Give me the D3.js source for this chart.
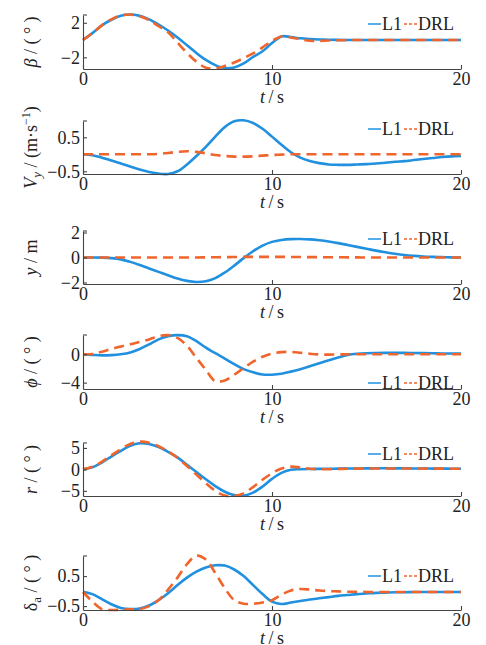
<!DOCTYPE html>
<html><head><meta charset="utf-8">
<script src="https://cdn.jsdelivr.net/npm/d3@7/dist/d3.min.js"></script>
<style>
body{margin:0;background:#fff;}
svg{display:block;}
svg text{font-family:"Liberation Serif","Times New Roman",Times,serif;}
</style>
</head><body>
<svg id="chart" width="486" height="645" font-family="Liberation Serif, Times New Roman, serif"></svg>
<script>
// ---------------- DATA ----------------
const seriesNames = ["L1", "DRL"];
const xTicks = [0, 10, 20];
const time = [0,0.5,1,1.5,2,2.5,3,3.5,4,4.5,5,5.5,6,6.5,7,7.5,8,8.5,9,9.5,10,
  10.5,11,11.5,12,12.5,13,13.5,14,14.5,15,15.5,16,16.5,17,17.5,18,18.5,19,19.5,20];

// beta (deg)
const betaL1  = [0,0.8,1.7,2.35,2.8,2.95,2.8,2.4,1.8,1.1,0.3,-0.6,-1.5,-2.3,-2.9,-3.25,-3.17,-2.7,-1.95,-1.3,-0.35,
  0.42,0.35,0.2,0.12,0.07,0.04,0.02,0.01,0,0,0,0,0,0,0,0,0,0,0,0];
const betaDRL = [0,0.8,1.7,2.4,2.85,2.95,2.75,2.3,1.6,0.9,-0.3,-1.5,-2.5,-3.2,-3.3,-3.0,-2.6,-2.1,-1.55,-0.85,-0.1,
  0.42,0.3,0.1,-0.08,-0.1,-0.06,-0.03,0,0,0,0,0,0,0,0,0,0,0,0,0];
const betaTicks = [-2, 2];

// Vy (m/s)
const vyL1  = [0,-0.03,-0.1,-0.18,-0.27,-0.36,-0.45,-0.52,-0.57,-0.58,-0.5,-0.3,-0.05,0.22,0.52,0.8,0.97,1.0,0.92,0.75,0.52,
  0.28,0.06,-0.1,-0.2,-0.26,-0.3,-0.31,-0.31,-0.3,-0.29,-0.27,-0.25,-0.22,-0.2,-0.17,-0.14,-0.11,-0.08,-0.06,-0.05];
const vyDRL = [0,0,0,0,0,0,0,0,0.01,0.04,0.07,0.09,0.07,0.03,-0.02,-0.05,-0.07,-0.07,-0.06,-0.04,-0.02,
  -0.01,0,0,0,0,0,0,0,0,0,0,0,0,0,0,0,0,0,0,0];
const vyTicks = [-0.5, 0.5];

// y (m)
const yL1  = [0,0,-0.01,-0.05,-0.15,-0.35,-0.6,-0.88,-1.15,-1.42,-1.68,-1.87,-1.96,-1.9,-1.65,-1.2,-0.65,-0.05,0.5,0.95,1.25,
  1.4,1.47,1.48,1.45,1.38,1.28,1.15,1.0,0.85,0.7,0.55,0.42,0.3,0.2,0.13,0.08,0.05,0.03,0.01,0];
const yDRL = [0,0,0,0,0,0,0,0,0,0,0,0,0,0.01,0.02,0.03,0.04,0.05,0.05,0.05,0.05,
  0.05,0.04,0.04,0.03,0.03,0.02,0.02,0.01,0.01,0,0,0,0,0,0,0,0,0,0,0];
const yTicks = [-2, 0, 2];

// phi (deg)
const phiL1  = [0,-0.08,-0.15,-0.12,0,0.25,0.75,1.4,2.1,2.55,2.7,2.55,1.85,0.95,0.15,-0.6,-1.4,-2.1,-2.55,-2.85,-2.88,
  -2.75,-2.45,-2.1,-1.7,-1.27,-0.85,-0.45,-0.1,0.07,0.15,0.18,0.2,0.2,0.2,0.18,0.16,0.14,0.12,0.11,0.1];
const phiDRL = [0,0.05,0.35,0.75,1.1,1.4,1.75,2.1,2.55,2.7,2.3,1.2,-0.5,-2.2,-3.8,-3.7,-2.9,-1.95,-1.05,-0.35,0.1,
  0.3,0.33,0.22,0.08,-0.02,-0.05,-0.03,0,0,0,0,0,0,0,0,0,0,0,0,0];
const phiTicks = [-4, 0];

// r (deg)
const rL1  = [0,0.5,1.6,3.0,4.3,5.5,6.1,5.9,5.2,4.1,2.8,1.1,-0.6,-2.3,-3.9,-5.2,-6.0,-6.1,-5.4,-4.0,-2.2,
  -0.8,-0.1,0.05,0.1,0.12,0.15,0.17,0.2,0.22,0.24,0.25,0.25,0.24,0.23,0.22,0.2,0.19,0.18,0.16,0.15];
const rDRL = [0,0.6,1.8,3.3,4.7,5.9,6.45,6.2,5.4,4.2,2.7,0.8,-1.2,-3.2,-5.0,-6.1,-6.2,-5.6,-4.1,-2.4,-0.9,
  0.2,0.65,0.45,0.15,0.05,0.05,0.1,0.15,0.18,0.2,0.22,0.22,0.22,0.21,0.2,0.19,0.18,0.17,0.16,0.15];
const rTicks = [-5, 0, 5];

// delta_a (deg)
const daL1  = [-0.02,-0.1,-0.27,-0.44,-0.56,-0.6,-0.58,-0.48,-0.3,-0.07,0.2,0.45,0.65,0.79,0.86,0.85,0.72,0.5,0.2,-0.1,-0.35,
  -0.43,-0.38,-0.33,-0.28,-0.24,-0.2,-0.16,-0.13,-0.1,-0.08,-0.06,-0.05,-0.04,-0.04,-0.03,-0.03,-0.03,-0.03,-0.03,-0.03];
const daDRL = [-0.03,-0.35,-0.6,-0.63,-0.62,-0.61,-0.6,-0.5,-0.3,0.05,0.45,0.9,1.18,1.05,0.6,0.1,-0.3,-0.42,-0.42,-0.38,-0.3,
  -0.12,0.02,0.07,0.05,0.02,0,-0.01,-0.02,-0.02,-0.03,-0.03,-0.03,-0.03,-0.03,-0.03,-0.03,-0.03,-0.03,-0.03,-0.03];
const daTicks = [-0.5, 0.5];

// ---------------- LAYOUT ----------------
const colors = ["#2190df", "#f0652b"];
const FONT = "Liberation Serif, Times New Roman, serif";
const fontSize = 18;
const xLeft = 83, xRight = 461;
const panels = [
  {l1: betaL1, drl: betaDRL, ticks: betaTicks, dom: [-3.35, 2.9],  top: 15,  bottom: 69,  legY: 24,  label: "beta"},
  {l1: vyL1,   drl: vyDRL,   ticks: vyTicks,   dom: [-0.58, 0.98], top: 121, bottom: 174, legY: 129, label: "vy"},
  {l1: yL1,    drl: yDRL,    ticks: yTicks,    dom: [-2.12, 2.12], top: 231, bottom: 284, legY: 239, label: "y"},
  {l1: phiL1,  drl: phiDRL,  ticks: phiTicks,  dom: [-4.9, 2.72],  top: 335, bottom: 389, legY: 383, label: "phi"},
  {l1: rL1,    drl: rDRL,    ticks: rTicks,    dom: [-6.2, 6.15],  top: 443, bottom: 496, legY: 454, label: "r"},
  {l1: daL1,   drl: daDRL,   ticks: daTicks,   dom: [-0.63, 1.17], top: 556, bottom: 610, legY: 576, label: "da"}
];

const svg = d3.select("#chart");
const axisColor = "#444";
const fmt = v => (v < 0 ? "\u2212" : "") + Math.abs(v);

function yLabel(g, kind) {
  const t = g.append("text").attr("font-size", fontSize).attr("font-family", FONT)
    .attr("fill", "#222").attr("text-anchor", "middle");
  const it = s => t.append("tspan").attr("font-style", "italic").text(s);
  const rm = s => t.append("tspan").text(s);
  if (kind === "beta") { it("\u03B2"); rm(" / ( \u00B0 )"); }
  else if (kind === "vy") {
    it("V"); it("y").attr("font-size", 13).attr("dy", 4);
    rm(" / (m\u00B7s").attr("dy", -4);
    rm("\u22121").attr("font-size", 12).attr("dy", -7);
    rm(")").attr("dy", 7);
  }
  else if (kind === "y") { it("y"); rm(" / m"); }
  else if (kind === "phi") { it("\u03D5"); rm(" / ( \u00B0 )"); }
  else if (kind === "r") { it("r"); rm(" / ( \u00B0 )"); }
  else if (kind === "da") { rm("\u03B4"); rm("a").attr("font-size", 13).attr("dy", 4); rm(" / ( \u00B0 )").attr("dy", -4); }
  return t;
}

const x = d3.scaleLinear().domain([0, 20]).range([xLeft, xRight]);

panels.forEach(p => {
  const g = svg.append("g");
  const y = d3.scaleLinear().domain(p.dom).range([p.bottom, p.top]);

  // lines
  const line = d3.line().x((d, i) => x(time[i])).y(d => y(d)).curve(d3.curveCatmullRom.alpha(0.5));
  g.append("path").datum(p.l1).attr("d", line).attr("fill", "none")
    .attr("stroke", colors[0]).attr("stroke-width", 2.6);
  g.append("path").datum(p.drl).attr("d", line).attr("fill", "none")
    .attr("stroke", colors[1]).attr("stroke-width", 2.6).attr("stroke-dasharray", "10,6");

  // axes
  const ax = g.append("g").attr("transform", `translate(${xLeft},0)`)
    .call(d3.axisLeft(y).tickValues(p.ticks).tickFormat(fmt).tickSizeInner(-4).tickSizeOuter(0).tickPadding(3));
  ax.attr("font-family", FONT).attr("font-size", fontSize);
  ax.selectAll("path,line").attr("stroke", axisColor).attr("stroke-width", 1.1);
  ax.selectAll("text").attr("font-size", fontSize).attr("fill", "#222").attr("font-family", FONT);
  // small mark at spine top
  g.append("line").attr("x1", xLeft).attr("x2", xLeft + 4).attr("y1", p.top).attr("y2", p.top)
    .attr("stroke", axisColor).attr("stroke-width", 1.1);

  const bx = g.append("g").attr("transform", `translate(0,${p.bottom})`)
    .call(d3.axisBottom(x).tickValues(xTicks).tickFormat(d => d).tickSizeInner(-4).tickSizeOuter(0).tickPadding(3));
  bx.attr("font-family", FONT).attr("font-size", fontSize);
  bx.selectAll("path,line").attr("stroke", axisColor).attr("stroke-width", 1.1);
  bx.selectAll("text").attr("font-size", fontSize).attr("fill", "#222").attr("font-family", FONT);

  // x label
  const xl = g.append("text").attr("x", (xLeft + xRight) / 2).attr("y", p.bottom + 34)
    .attr("font-size", fontSize).attr("font-family", FONT).attr("fill", "#222").attr("text-anchor", "middle");
  xl.append("tspan").attr("font-style", "italic").text("t");
  xl.append("tspan").text("\u2009/\u2009s");

  // y label
  const yl = yLabel(g, p.label);
  yl.attr("transform", `translate(37,${(p.top + p.bottom) / 2}) rotate(-90)`);

  // legend
  const lg = g.append("g").attr("transform", `translate(368,${p.legY})`);
  let cx = 0;
  seriesNames.forEach((name, i) => {
    lg.append("line").attr("x1", cx).attr("x2", cx + 13).attr("y1", 0).attr("y2", 0)
      .attr("stroke", colors[i]).attr("stroke-width", 1.5)
      .attr("stroke-dasharray", i === 1 ? "3,2" : null);
    cx += 14;
    const tx = lg.append("text").attr("x", cx).attr("y", 6).attr("font-size", fontSize)
      .attr("font-family", FONT).attr("fill", "#222").text(name);
    cx += tx.node().getComputedTextLength() + 2;
  });
});
</script>
</body></html>
